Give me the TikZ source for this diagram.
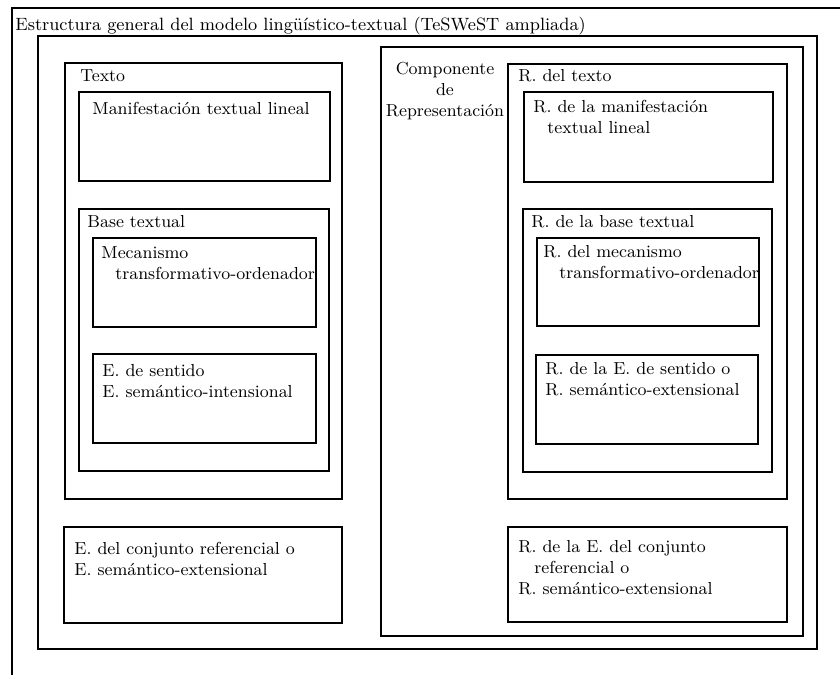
\documentclass[tikz,border=0pt]{standalone}
\begin{document}
\begin{tikzpicture}[x=0.5pt,y=-0.5pt]
  \tikzset{box/.style={draw=black, line width=0.9pt},
           lbl/.style={anchor=north west, inner sep=0pt, align=left,
                       font=\fontsize{8.7}{10.5}\selectfont}};
  \useasboundingbox (0,0) rectangle (840,675);

  % outer frame, cut off at right and bottom
  \draw[box] (840,8) -- (12,8) -- (12,675);
  \node[lbl, font=\fontsize{8.9}{11}\selectfont] (title) at (15,17) {Estructura general del modelo ling\"u\'istico-textual (TeSWeST ampliada)};

  % second frame
  \draw[box] (38,36) rectangle (817,649);

  % left column
  \draw[box] (65,63) rectangle (342,499);
  \node[lbl] (texto) at (80,69) {Texto};
  \draw[box] (79,92) rectangle (330,181);
  \node[lbl] (manif) at (92,102) {Manifestaci\'on textual lineal};
  \draw[box] (79,209) rectangle (329,471);
  \node[lbl] (base) at (87,215) {Base textual};
  \draw[box] (93,238) rectangle (316,327);
  \node[lbl] (mecan) at (101,246) {Mecanismo\\\hspace*{7pt}transformativo-ordenador};
  \draw[box] (93,354) rectangle (316,443);
  \node[lbl] (sentido) at (102,364) {E.\ de sentido\\E.\ sem\'antico-intensional};
  \draw[box] (64,527) rectangle (342,623);
  \node[lbl] (conjunto) at (74,542) {E.\ del conjunto referencial o\\E.\ sem\'antico-extensional};

  % right column
  \draw[box] (381,47) rectangle (803,636);
  \node[lbl, anchor=north, align=center] (comp) at (445,62) {Componente\\de\\Representaci\'on};
  \draw[box] (508,64) rectangle (787,499);
  \node[lbl] (rtexto) at (518,69) {R.\ del texto};
  \draw[box] (524,92) rectangle (773,182);
  \node[lbl] (rmanif) at (533,100) {R.\ de la manifestaci\'on\\\hspace*{7pt}textual lineal};
  \draw[box] (523,209) rectangle (772,472);
  \node[lbl] (rbase) at (531,215) {R.\ de la base textual};
  \draw[box] (537,238) rectangle (759,326);
  \node[lbl] (rmecan) at (543,245) {R.\ del mecanismo\\\hspace*{8pt}transformativo-ordenador};
  \draw[box] (536,355) rectangle (758,444);
  \node[lbl] (rsentido) at (545,362) {R.\ de la E.\ de sentido o\\R.\ sem\'antico-extensional};
  \draw[box] (508,527) rectangle (787,622);
  \node[lbl] (rconjunto) at (518,540) {R.\ de la E.\ del conjunto\\\hspace*{8pt}referencial o\\R.\ sem\'antico-extensional};
\end{tikzpicture}
\end{document}
